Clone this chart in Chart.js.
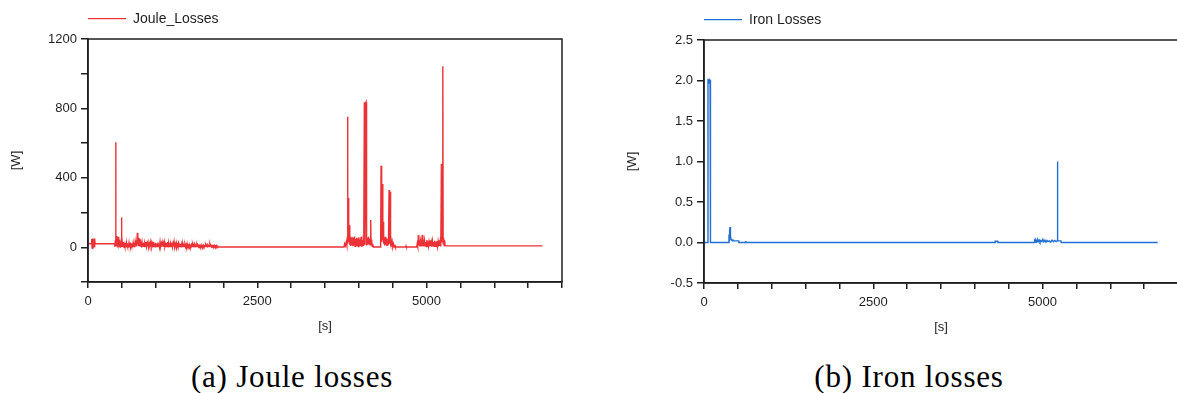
<!DOCTYPE html>
<html>
<head>
<meta charset="utf-8">
<script src="https://cdn.jsdelivr.net/npm/chart.js@4"></script>
<style>
html, body { margin: 0; padding: 0; background: #fff; width: 1177px; height: 393px; overflow: hidden; }
.box { position: absolute; width: 600px; height: 345px; }
.cap { position: absolute; top: 361px; width: 400px; text-align: center; font-family: "Liberation Serif", serif; font-size: 31px; line-height: 31px; letter-spacing: 0.8px; color: #000; }
</style>
</head>
<body>
<div class="box" style="left:0;top:0"><canvas id="joule"></canvas></div>
<div class="box" style="left:616px;top:1px"><canvas id="iron"></canvas></div>
<div class="cap" style="left:92px">(a) Joule losses</div>
<div class="cap" style="left:709px">(b) Iron losses</div>
<script>
// [time s, power W]
const jouleSamples = [
    [0,20],[50,20],[55,48],[60,-4],[66,50],[72,-6],[78,46],[84,-2],[90,50],[96,0],[102,44],[106,20],[395,20],
    [398,2],[404,40],[409,605],[413,10],[418,65],[423,5],[428,55],[433,8],[438,48],[443,3],[448,60],[453,5],
    [458,38],[463,4],[468,45],[473,2],[478,30],[483,3],[488,25],[493,4],[497,172],[501,3],[506,28],[511,2],
    [516,22],[521,4],[526,30],[531,2],[536,18],[541,5],[546,26],[551,2],[556,20],[561,4],[566,24],[571,2],
    [576,16],[581,5],[586,22],[591,3],[596,18],[601,2],[606,25],[611,4],[616,20],[621,3],[626,28],[631,2],
    [636,15],[641,5],[646,22],[651,3],[656,18],[661,6],[666,26],[671,2],[676,20],[681,4],[686,24],[691,3],
    [696,30],[701,5],[706,40],[711,8],[716,35],[721,10],[729,83],[733,20],[738,60],[743,12],[748,55],[753,10],
    [758,50],[763,8],[768,45],[773,6],[778,38],[783,5],[788,30],[793,3],[798,26],
    [800,3],[808,24],[816,5],[824,28],[832,4],[840,20],[848,6],[856,30],[864,3],[872,22],[880,5],[888,26],
    [896,4],[904,18],[912,6],[920,28],[928,3],[936,24],[944,5],[952,20],[960,4],[968,32],[976,6],[984,22],
    [992,3],[1000,26],[1008,5],[1016,20],[1024,4],[1032,28],[1040,6],[1048,22],[1056,3],[1064,30],[1072,5],
    [1080,20],[1088,4],[1096,26],[1104,6],[1112,22],[1120,3],[1128,28],[1136,5],[1144,18],[1152,4],[1160,24],
    [1168,6],[1176,30],[1184,3],[1192,20],[1200,5],[1208,26],[1216,4],[1224,18],[1232,6],[1240,28],[1248,3],
    [1256,22],[1264,5],[1272,30],[1280,4],[1288,18],[1296,6],[1304,24],[1312,3],[1320,16],[1328,5],[1336,22],
    [1344,4],[1352,14],[1360,6],[1368,20],[1376,3],[1384,15],[1392,5],[1400,18],[1408,4],[1416,12],[1424,6],
    [1432,16],[1440,3],[1448,14],[1456,5],[1464,20],[1472,4],[1480,12],[1488,6],[1496,15],[1504,3],[1512,10],
    [1520,5],[1528,14],[1536,4],[1544,18],[1552,6],[1560,11],[1568,3],[1576,14],[1584,5],[1592,10],[1600,4],
    [1608,16],[1616,6],[1624,10],[1632,3],[1640,12],[1648,5],[1656,9],[1664,4],[1672,14],[1680,6],[1688,10],
    [1696,3],[1704,12],[1712,5],[1720,8],[1728,4],[1736,15],[1744,6],[1752,9],[1760,3],[1768,11],[1776,5],
    [1784,8],[1792,4],[1800,18],[1808,6],[1816,9],[1824,3],[1832,10],[1840,5],[1848,8],[1856,4],[1864,12],
    [1872,5],[1880,8],[1888,3],[1896,10],[1904,4],[1912,7],[1920,2],[3780,2],
    [3790,20],[3800,8],[3812,28],[3822,10],[3830,60],[3834,752],[3838,20],[3845,284],[3850,30],[3860,127],
    [3866,15],[3872,60],[3880,8],[3888,55],[3896,12],[3904,58],[3912,6],[3920,50],[3928,10],[3936,62],[3944,5],
    [3952,48],[3960,12],[3968,55],[3976,8],[3984,50],[3992,4],[4000,58],[4008,10],[4016,45],[4024,6],[4032,60],
    [4040,3],[4048,35],[4056,5],[4064,40],[4072,8],[4081,836],[4090,15],[4100,830],[4106,836],[4110,40],
    [4118,10],[4126,55],[4134,15],[4142,60],[4150,20],[4158,50],[4166,15],[4175,157],[4180,20],[4188,45],
    [4196,5],[4205,20],[4212,2],[4315,2],[4322,40],[4328,470],[4334,30],[4340,60],[4348,365],[4354,40],
    [4360,147],[4366,20],[4374,55],[4382,10],[4390,60],[4398,15],[4406,50],[4414,8],[4422,45],[4430,10],
    [4438,40],[4446,330],[4451,20],[4456,60],[4461,25],[4466,320],[4471,15],[4478,35],[4486,5],[4494,28],
    [4502,4],[4512,20],[4522,3],[4534,10],[4540,2],[4692,2],[4697,8],[4702,2],[4855,2],[4862,20],[4870,5],
    [4879,70],[4886,10],[4894,40],[4902,5],[4910,35],[4918,8],[4926,30],[4938,70],[4945,6],[4953,45],[4961,5],
    [4970,38],[4978,8],[4986,30],[4995,4],[5004,42],[5012,6],[5020,35],[5028,8],[5036,30],[5045,5],[5054,40],
    [5062,6],[5070,28],[5078,4],[5087,35],[5095,8],[5104,30],[5112,5],[5120,38],[5128,6],[5136,30],[5145,4],
    [5154,36],[5162,6],[5170,32],[5178,5],[5186,40],[5194,8],[5202,35],[5210,5],[5219,481],[5225,30],[5232,60],
    [5240,1043],[5245,20],[5252,55],[5260,10],[5268,40],[5273,8],[6710,8]
];

const ironSamples = [
    [0,0],[57,0],[59,2.02],[66,1.98],[72,2.01],[78,1.97],[84,2.0],[90,1.99],[94,2.01],[97,0],[365,0],
    [369,0.1],[372,0.02],[378,0.14],[384,0.19],[388,0.06],[394,0.08],[400,0.04],[410,0.03],[428,0.03],
    [432,0.02],[512,0.02],[515,0],[611,0],[615,0.02],[619,0],[3818,0],[3821,0.01],[3824,0],[4298,0],
    [4300,0.015],[4337,0.015],[4340,0],[4468,0],[4470,0.01],[4473,0],[4508,0],[4510,0.01],[4513,0],[4878,0],
    [4882,0.02],[4890,0.005],[4900,0.03],[4912,0.01],[4925,0.04],[4935,0.01],[4950,0.03],[4962,0.005],
    [4975,0.025],[4990,0.01],[5005,0.04],[5020,0.01],[5035,0.03],[5050,0.005],[5065,0.025],[5080,0.01],
    [5100,0.02],[5120,0.005],[5140,0.03],[5160,0.01],[5180,0.025],[5200,0.01],[5215,0.02],[5220,0.02],
    [5222,1.0],[5224,0.02],[5272,0.02],[5275,0],[6700,0]
];

const xLabels = [0, 2500, 5000];
const jouleLabels = [0, 400, 800, 1200];

const ink = '#1e1e1e';
const tickFont = { family: 'Liberation Sans', size: 13 };

// box around plot area plus a small line legend above it
const framePlugin = {
    id: 'frame',
    afterDraw(chart) {
        const { ctx, chartArea: a } = chart;
        const ds = chart.data.datasets[0];
        ctx.save();
        ctx.strokeStyle = ink;
        ctx.lineWidth = 1.5;
        ctx.strokeRect(a.left, a.top, a.right - a.left, a.bottom - a.top);
        const y = a.top - 20.3;
        ctx.strokeStyle = ds.borderColor;
        ctx.lineWidth = 1.3;
        ctx.beginPath();
        ctx.moveTo(a.left, y);
        ctx.lineTo(a.left + 38, y);
        ctx.stroke();
        ctx.fillStyle = ink;
        ctx.font = '14px "Liberation Sans"';
        ctx.textBaseline = 'middle';
        ctx.fillText(ds.label, a.left + 45, y);
        ctx.restore();
    }
};

function makeChart(id, label, samples, color, yMin, yMax, yStep, yLabel) {
    return new Chart(document.getElementById(id), {
        type: 'line',
        data: {
            datasets: [{
                label: label,
                data: samples.map(p => ({ x: p[0], y: p[1] })),
                borderColor: color,
                borderWidth: 1.4,
                pointRadius: 0,
                tension: 0,
                fill: false
            }]
        },
        options: {
            responsive: true,
            maintainAspectRatio: false,
            animation: false,
            layout: { padding: { top: 39, right: 38, left: 0, bottom: 0 } },
            plugins: { legend: { display: false }, tooltip: { enabled: false } },
            scales: {
                x: {
                    type: 'linear',
                    min: 0, max: 7000,
                    afterFit: s => { s.height = 63; },
                    border: { color: ink, width: 1.5 },
                    grid: { drawOnChartArea: false, tickLength: 6, color: ink, lineWidth: 1.5 },
                    ticks: {
                        stepSize: 500, autoSkip: false, maxRotation: 0, padding: 6,
                        color: ink, font: tickFont,
                        callback: v => xLabels.includes(v) ? String(v) : ''
                    },
                    title: { display: true, text: '[s]', color: ink, font: tickFont, padding: { bottom: 11 } }
                },
                y: {
                    min: yMin, max: yMax,
                    afterFit: s => { s.width = 88; },
                    border: { color: ink, width: 1.5 },
                    grid: { drawOnChartArea: false, tickLength: 7, color: ink, lineWidth: 1.5 },
                    ticks: {
                        stepSize: yStep, autoSkip: false, padding: 4,
                        color: ink, font: tickFont,
                        callback: yLabel
                    },
                    title: { display: true, text: '[W]', color: ink, font: tickFont, padding: { top: 9 } }
                }
            }
        },
        plugins: [framePlugin]
    });
}

makeChart('joule', 'Joule_Losses', jouleSamples, '#ec3237', -200, 1200, 200,
    v => jouleLabels.includes(v) ? String(v) : '');
makeChart('iron', 'Iron Losses', ironSamples, '#1f6fd4', -0.5, 2.5, 0.5,
    v => v.toFixed(1));
</script>
</body>
</html>
